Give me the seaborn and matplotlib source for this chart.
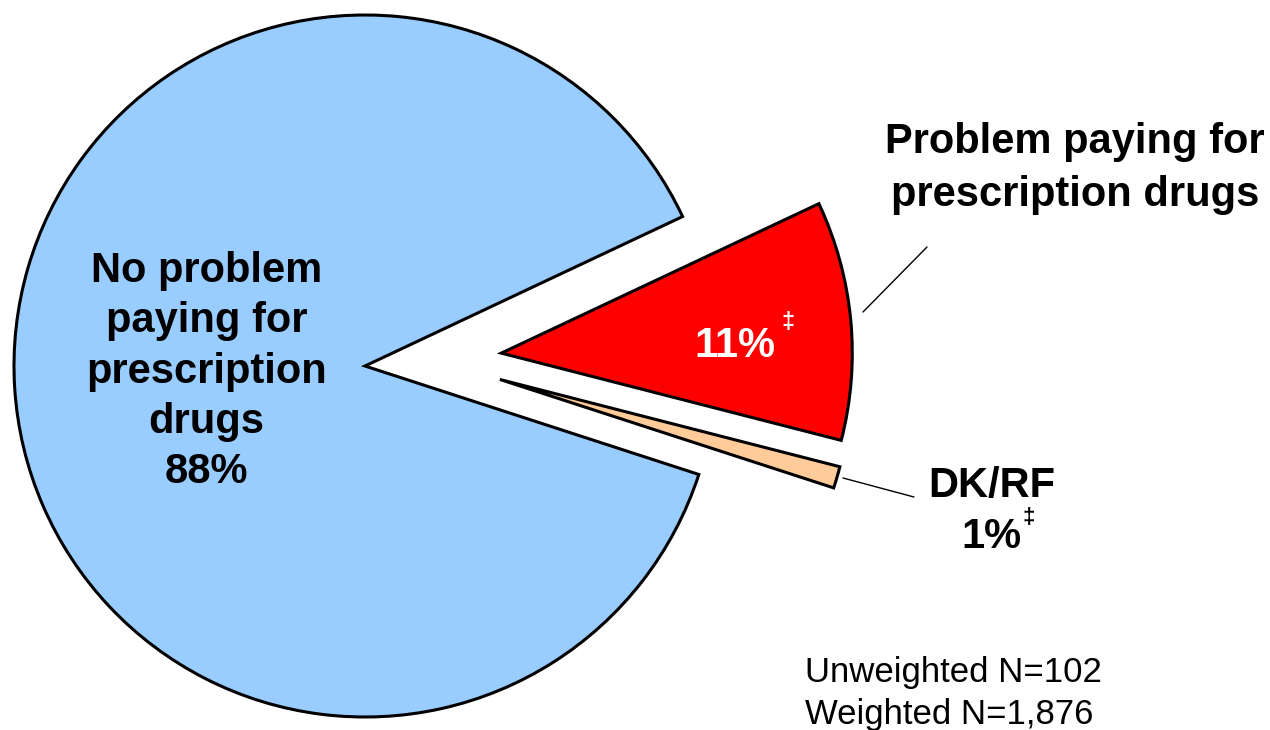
import matplotlib
matplotlib.use("Agg")
import matplotlib.pyplot as plt
import seaborn as sns

# ---- data ----
categories = ["No problem paying for prescription drugs",
              "Problem paying for prescription drugs",
              "DK/RF"]
values = [88, 11, 1]
value_labels = ["88%", "11%", "1%"]
colors = ["#99CCFF", "#FF0000", "#FFCC99"]
note_lines = ["Unweighted N=102", "Weighted N=1,876"]

sns.set_theme(style="white")
plt.rcParams["font.family"] = ["Liberation Sans", "DejaVu Sans"]

W, H = 1270, 730
fig = plt.figure(figsize=(W / 100, H / 100), dpi=100)
fig.patch.set_facecolor("white")
ax = fig.add_axes([0, 0, 1, 1])

R = 351.0          # pie radius in pixels
cx, cy = 365.0, 366.0  # pie centre in pixels (from top-left)

wedges, _ = ax.pie(values, colors=colors, startangle=-18, counterclock=False,
                   explode=[0, 0.39, 0.39], radius=1.0,
                   wedgeprops=dict(edgecolor="black", linewidth=2.2))
ax.set_xlim(-cx / R, (W - cx) / R)
ax.set_ylim(-(H - cy) / R, cy / R)
ax.set_aspect("equal", adjustable="box")
ax.axis("off")

# Keep the small DK/RF slice parallel to, and just below, the red slice
rc = wedges[1].center
wedges[2].set_center((rc[0] - 0.004, rc[1] - 0.075))


def fx(px):
    return px / W


def fy(py):
    return 1 - py / H


bold = dict(fontweight="bold", color="black")

# (va="baseline" anchors the last line of multi-line text)
fig.text(fx(206.5), fy(483),
         "No problem\npaying for\nprescription\ndrugs\n" + value_labels[0],
         ha="center", va="baseline", multialignment="center",
         fontsize=30, linespacing=1.33, **bold)

fig.text(fx(735), fy(357), value_labels[1], ha="center", va="baseline",
         fontsize=30, fontweight="bold", color="white")
fig.text(fx(781), fy(311), "\u2021", ha="left", va="top",
         fontsize=17, fontweight="bold", color="white")

fig.text(fx(1075), fy(206), "Problem paying for\nprescription drugs",
         ha="center", va="baseline", multialignment="center",
         fontsize=30, linespacing=1.42, **bold)

fig.text(fx(991.5), fy(497), categories[2], ha="center", va="baseline",
         fontsize=30, **bold)
fig.text(fx(991), fy(548), value_labels[2], ha="center", va="baseline",
         fontsize=30, **bold)
fig.text(fx(1023), fy(507), "\u2021", ha="left", va="top",
         fontsize=16, fontweight="bold", color="black")

fig.text(fx(805), fy(724), "\n".join(note_lines), ha="left", va="baseline",
         fontsize=25, linespacing=1.36, color="black")

# leader lines
fig.add_artist(plt.Line2D([fx(863), fx(927)], [fy(312), fy(247)],
                          color="black", linewidth=1.0))
fig.add_artist(plt.Line2D([fx(843), fx(914)], [fy(478), fy(497)],
                          color="black", linewidth=1.0))

fig.savefig("out.png", dpi=100, facecolor="white")
